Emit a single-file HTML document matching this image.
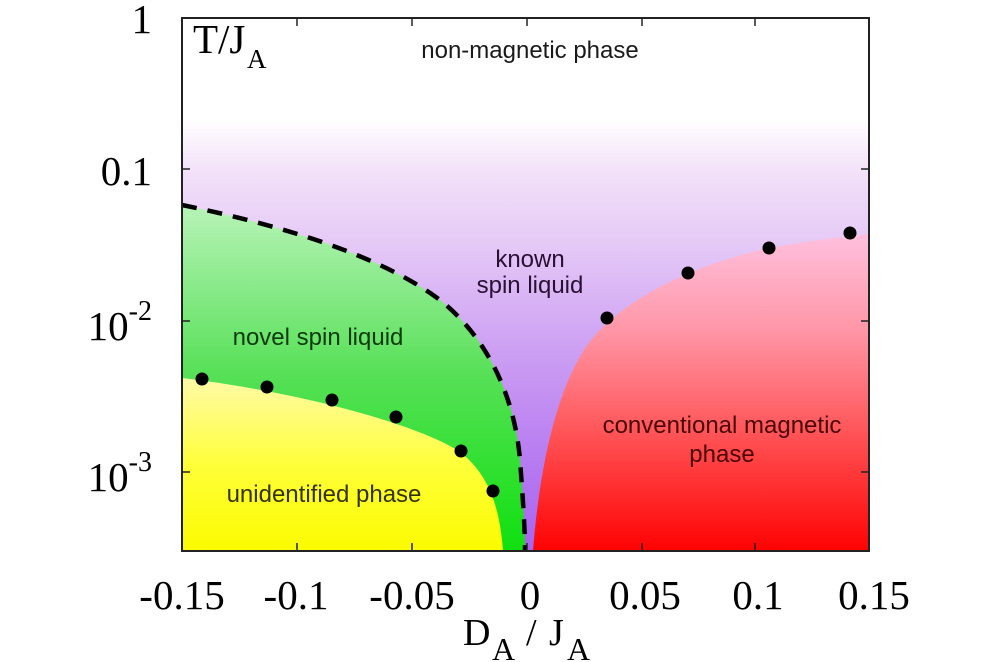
<!DOCTYPE html>
<html>
<head>
<meta charset="utf-8">
<style>
html,body{margin:0;padding:0;background:#fff;}
svg{display:block;}
</style>
</head>
<body>
<svg width="1000" height="662" viewBox="0 0 1000 662" xmlns="http://www.w3.org/2000/svg">
<defs>
<linearGradient id="gp" x1="0" y1="18" x2="0" y2="551" gradientUnits="userSpaceOnUse">
<stop offset="0" stop-color="#ffffff"/>
<stop offset="0.19" stop-color="#ffffff"/>
<stop offset="0.285" stop-color="#f3e2f9"/>
<stop offset="0.43" stop-color="#e4c8f6"/>
<stop offset="0.62" stop-color="#cda0f3"/>
<stop offset="0.8" stop-color="#ba80f1"/>
<stop offset="1" stop-color="#a962ef"/>
</linearGradient>
<linearGradient id="gg" x1="0" y1="205" x2="0" y2="551" gradientUnits="userSpaceOnUse">
<stop offset="0" stop-color="#b8f3b8"/>
<stop offset="0.5" stop-color="#55e055"/>
<stop offset="1" stop-color="#10e010"/>
</linearGradient>
<linearGradient id="gy" x1="0" y1="378" x2="0" y2="551" gradientUnits="userSpaceOnUse">
<stop offset="0" stop-color="#fffaa8"/>
<stop offset="0.5" stop-color="#ffff3a"/>
<stop offset="1" stop-color="#fbfb00"/>
</linearGradient>
<linearGradient id="gr" x1="0" y1="234" x2="0" y2="551" gradientUnits="userSpaceOnUse">
<stop offset="0" stop-color="#ffc0de"/>
<stop offset="0.3" stop-color="#ff97a8"/>
<stop offset="0.6" stop-color="#ff5a5e"/>
<stop offset="1" stop-color="#ff0202"/>
</linearGradient>
</defs>

<!-- background purple -->
<rect x="182" y="18" width="687" height="533" fill="url(#gp)"/>

<!-- green region -->
<path fill="url(#gg)" d="M182,551 L182,205 C280,225 380,255 440,300 C490,340 515,400 520,460 C523,500 525,530 525,551 Z"/>

<!-- yellow region -->
<path fill="url(#gy)" d="M182,378 C300,392 420,425 460,452 C490,475 500,510 503,551 L182,551 Z"/>

<!-- red region -->
<path fill="url(#gr)" d="M533,551 C540,460 560,370 600,330 C640,290 700,265 760,250 C800,242 840,237 869,234 L869,551 Z"/>

<!-- dashed boundary -->
<path fill="none" stroke="#000" stroke-width="4.5" stroke-dasharray="15 11" d="M182,205 C280,225 380,255 440,300 C490,340 515,400 520,460 C523,500 525,530 525,551"/>

<!-- dots -->
<g fill="#000">
<circle cx="202" cy="379" r="6.5"/>
<circle cx="267" cy="387" r="6.5"/>
<circle cx="332" cy="400" r="6.5"/>
<circle cx="396" cy="417" r="6.5"/>
<circle cx="461" cy="451" r="6.5"/>
<circle cx="493" cy="491" r="6.5"/>
<circle cx="607" cy="318" r="6.5"/>
<circle cx="688" cy="273" r="6.5"/>
<circle cx="769" cy="248" r="6.5"/>
<circle cx="850" cy="233" r="6.5"/>
</g>

<!-- region labels -->
<g font-family="'Liberation Sans', sans-serif" font-size="24" text-anchor="middle">
<text x="530" y="58" fill="#1a1a1a">non-magnetic phase</text>
<text x="530" y="267" fill="#2a1035">known</text>
<text x="530" y="293" fill="#2a1035">spin liquid</text>
<text x="318" y="345" fill="#0a3a0a">novel spin liquid</text>
<text x="324" y="502" fill="#333300">unidentified phase</text>
<text x="722" y="433" fill="#4a0505">conventional magnetic</text>
<text x="722" y="462" fill="#4a0505">phase</text>
</g>

<!-- frame -->
<rect x="182" y="18" width="687" height="533" fill="none" stroke="#222" stroke-width="2"/>

<!-- ticks -->
<g stroke="#222" stroke-width="1.5">
<line x1="182" y1="169" x2="190" y2="169"/>
<line x1="182" y1="321" x2="190" y2="321"/>
<line x1="182" y1="472" x2="190" y2="472"/>
<line x1="869" y1="169" x2="861" y2="169"/>
<line x1="869" y1="321" x2="861" y2="321"/>
<line x1="869" y1="472" x2="861" y2="472"/>
<line x1="297" y1="551" x2="297" y2="543"/>
<line x1="412" y1="551" x2="412" y2="543"/>
<line x1="527" y1="551" x2="527" y2="543"/>
<line x1="642" y1="551" x2="642" y2="543"/>
<line x1="755" y1="551" x2="755" y2="543"/>
<line x1="297" y1="18" x2="297" y2="26"/>
<line x1="412" y1="18" x2="412" y2="26"/>
<line x1="527" y1="18" x2="527" y2="26"/>
<line x1="642" y1="18" x2="642" y2="26"/>
<line x1="755" y1="18" x2="755" y2="26"/>
</g>

<!-- axis tick labels -->
<g font-family="'Liberation Serif', serif" font-size="41" fill="#000">
<text x="152" y="33" text-anchor="end">1</text>
<text x="152" y="185" text-anchor="end">0.1</text>
<text x="152" y="340" text-anchor="end">10<tspan font-size="28" dy="-20">-2</tspan></text>
<text x="152" y="491" text-anchor="end">10<tspan font-size="28" dy="-20">-3</tspan></text>

<text x="182" y="609" text-anchor="middle">-0.15</text>
<text x="296" y="609" text-anchor="middle">-0.1</text>
<text x="412" y="609" text-anchor="middle">-0.05</text>
<text x="530" y="609" text-anchor="middle">0</text>
<text x="645" y="609" text-anchor="middle">0.05</text>
<text x="758" y="609" text-anchor="middle">0.1</text>
<text x="874" y="609" text-anchor="middle">0.15</text>
</g>

<!-- axis titles -->
<g font-family="'Liberation Serif', serif" fill="#000">
<text x="193" y="53" font-size="41">T/J</text>
<text x="247" y="68" font-size="27">A</text>

<text x="463" y="645" font-size="38">D</text>
<text x="492" y="660" font-size="32">A</text>
<text x="526" y="645" font-size="38">/</text>
<text x="549" y="645" font-size="38">J</text>
<text x="567" y="660" font-size="32">A</text>
</g>
</svg>
</body>
</html>
